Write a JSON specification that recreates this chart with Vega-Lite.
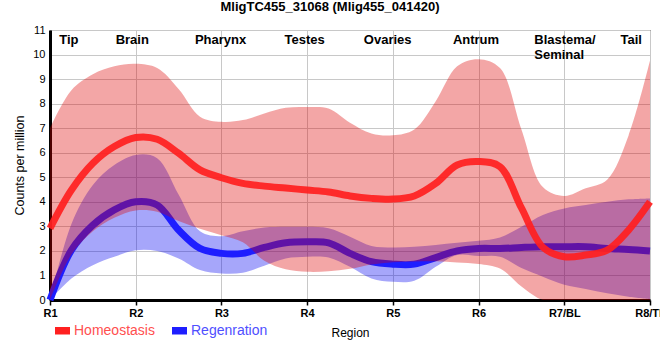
{
  "$schema": "https://vega.github.io/schema/vega-lite/v6.json",
  "width": 600,
  "height": 270,
  "autosize": {"type": "none"},
  "padding": {"left": 50, "top": 30, "right": 10, "bottom": 60},
  "background": "white",
  "title": {"text": "MligTC455_31068 (Mlig455_041420)", "font": "Liberation Sans", "fontSize": 13, "fontWeight": "bold", "color": "black", "anchor": "middle", "frame": "group", "dx": -20, "offset": 0, "baseline": "alphabetic"},
  "datasets": {
    "curves": [
      {"series": "Homeostasis", "x": 1, "mean": 2.92, "lo": 0, "hi": 7.0},
      {"series": "Homeostasis", "x": 1.25, "mean": 4.48, "lo": 1.85, "hi": 8.55},
      {"series": "Homeostasis", "x": 1.5, "mean": 5.57, "lo": 2.8, "hi": 9.2},
      {"series": "Homeostasis", "x": 1.75, "mean": 6.25, "lo": 3.35, "hi": 9.52},
      {"series": "Homeostasis", "x": 2, "mean": 6.62, "lo": 3.65, "hi": 9.62},
      {"series": "Homeostasis", "x": 2.25, "mean": 6.55, "lo": 3.6, "hi": 9.45},
      {"series": "Homeostasis", "x": 2.5, "mean": 5.98, "lo": 3.22, "hi": 8.6},
      {"series": "Homeostasis", "x": 2.75, "mean": 5.3, "lo": 2.9, "hi": 7.47},
      {"series": "Homeostasis", "x": 3, "mean": 4.98, "lo": 2.64, "hi": 7.26},
      {"series": "Homeostasis", "x": 3.25, "mean": 4.75, "lo": 2.35, "hi": 7.33},
      {"series": "Homeostasis", "x": 3.5, "mean": 4.64, "lo": 1.6, "hi": 7.6},
      {"series": "Homeostasis", "x": 3.75, "mean": 4.56, "lo": 1.25, "hi": 7.83},
      {"series": "Homeostasis", "x": 4, "mean": 4.48, "lo": 1.15, "hi": 7.86},
      {"series": "Homeostasis", "x": 4.25, "mean": 4.4, "lo": 1.17, "hi": 7.8},
      {"series": "Homeostasis", "x": 4.5, "mean": 4.24, "lo": 1.27, "hi": 7.22},
      {"series": "Homeostasis", "x": 4.75, "mean": 4.14, "lo": 1.45, "hi": 6.78},
      {"series": "Homeostasis", "x": 5, "mean": 4.11, "lo": 1.54, "hi": 6.71},
      {"series": "Homeostasis", "x": 5.25, "mean": 4.24, "lo": 1.57, "hi": 6.95},
      {"series": "Homeostasis", "x": 5.5, "mean": 4.75, "lo": 1.58, "hi": 8.1},
      {"series": "Homeostasis", "x": 5.75, "mean": 5.5, "lo": 1.53, "hi": 9.52},
      {"series": "Homeostasis", "x": 6, "mean": 5.64, "lo": 1.47, "hi": 9.81},
      {"series": "Homeostasis", "x": 6.25, "mean": 5.43, "lo": 1.28, "hi": 9.45},
      {"series": "Homeostasis", "x": 6.5, "mean": 3.75, "lo": 0.55, "hi": 6.95},
      {"series": "Homeostasis", "x": 6.75, "mean": 2.15, "lo": 0, "hi": 4.6},
      {"series": "Homeostasis", "x": 7, "mean": 1.76, "lo": 0, "hi": 4.24},
      {"series": "Homeostasis", "x": 7.25, "mean": 1.83, "lo": 0, "hi": 4.55},
      {"series": "Homeostasis", "x": 7.5, "mean": 2.03, "lo": 0, "hi": 4.9},
      {"series": "Homeostasis", "x": 7.75, "mean": 2.85, "lo": 0, "hi": 6.7},
      {"series": "Homeostasis", "x": 8, "mean": 4.0, "lo": 0, "hi": 9.75},
      {"series": "Regenration", "x": 1, "mean": 0, "lo": 0, "hi": 0},
      {"series": "Regenration", "x": 1.25, "mean": 2.03, "lo": 0.88, "hi": 3.1},
      {"series": "Regenration", "x": 1.5, "mean": 3.05, "lo": 1.42, "hi": 4.69},
      {"series": "Regenration", "x": 1.75, "mean": 3.67, "lo": 1.76, "hi": 5.5},
      {"series": "Regenration", "x": 2, "mean": 4.0, "lo": 2.03, "hi": 5.91},
      {"series": "Regenration", "x": 2.25, "mean": 3.87, "lo": 2.0, "hi": 5.78},
      {"series": "Regenration", "x": 2.5, "mean": 2.85, "lo": 1.69, "hi": 4.3},
      {"series": "Regenration", "x": 2.75, "mean": 2.1, "lo": 1.22, "hi": 2.8},
      {"series": "Regenration", "x": 3, "mean": 1.9, "lo": 1.08, "hi": 2.6},
      {"series": "Regenration", "x": 3.25, "mean": 1.9, "lo": 1.11, "hi": 2.8},
      {"series": "Regenration", "x": 3.5, "mean": 2.14, "lo": 1.4, "hi": 2.95},
      {"series": "Regenration", "x": 3.75, "mean": 2.33, "lo": 1.69, "hi": 2.98},
      {"series": "Regenration", "x": 4, "mean": 2.37, "lo": 1.76, "hi": 2.98},
      {"series": "Regenration", "x": 4.25, "mean": 2.33, "lo": 1.73, "hi": 2.92},
      {"series": "Regenration", "x": 4.5, "mean": 1.9, "lo": 1.35, "hi": 2.58},
      {"series": "Regenration", "x": 4.75, "mean": 1.56, "lo": 0.88, "hi": 2.2},
      {"series": "Regenration", "x": 5, "mean": 1.46, "lo": 0.74, "hi": 2.14},
      {"series": "Regenration", "x": 5.25, "mean": 1.46, "lo": 0.78, "hi": 2.17},
      {"series": "Regenration", "x": 5.5, "mean": 1.73, "lo": 1.35, "hi": 2.24},
      {"series": "Regenration", "x": 5.75, "mean": 2.0, "lo": 1.83, "hi": 2.33},
      {"series": "Regenration", "x": 6, "mean": 2.1, "lo": 1.79, "hi": 2.41},
      {"series": "Regenration", "x": 6.25, "mean": 2.1, "lo": 1.76, "hi": 2.55},
      {"series": "Regenration", "x": 6.5, "mean": 2.14, "lo": 1.3, "hi": 2.98},
      {"series": "Regenration", "x": 6.75, "mean": 2.17, "lo": 0.95, "hi": 3.46},
      {"series": "Regenration", "x": 7, "mean": 2.17, "lo": 0.62, "hi": 3.73},
      {"series": "Regenration", "x": 7.25, "mean": 2.17, "lo": 0.45, "hi": 3.87},
      {"series": "Regenration", "x": 7.5, "mean": 2.1, "lo": 0.27, "hi": 4.0},
      {"series": "Regenration", "x": 7.75, "mean": 2.06, "lo": 0.13, "hi": 4.1},
      {"series": "Regenration", "x": 8, "mean": 2.0, "lo": 0.03, "hi": 4.14}
    ],
    "regions": [
      {"label": "Tip", "x": 1.22},
      {"label": "Brain", "x": 1.96},
      {"label": "Pharynx", "x": 2.99},
      {"label": "Testes", "x": 3.97},
      {"label": "Ovaries", "x": 4.94},
      {"label": "Antrum", "x": 5.97},
      {"label": "Tail", "x": 7.78}
    ],
    "regions_left": [
      {"label": "Blastema/\nSeminal", "x": 6.65}
    ]
  },
  "config": {
    "font": "Liberation Sans",
    "view": {"stroke": "black", "strokeWidth": 1},
    "axis": {"gridColor": "#c8c8c8", "gridOpacity": 1, "gridWidth": 1, "domainColor": "black", "domainWidth": 3, "labelColor": "black", "titleColor": "black", "titleFontWeight": "normal", "titleFont": "Liberation Sans", "labelFont": "Liberation Sans"},
    "axisY": {"tickSize": 0, "ticks": false, "labelPadding": 5, "labelFontSize": 11, "titleFontSize": 12.5, "titleX": -31, "titleY": 135, "titleAngle": 270, "titleAlign": "center", "titleBaseline": "middle", "tickCount": 11},
    "axisX": {"tickSize": 5, "tickColor": "black", "tickWidth": 1.5, "labelPadding": 2, "labelFontSize": 11, "labelFontWeight": "bold", "titleFontSize": 12, "titleX": 300, "titleY": 32, "titleBaseline": "middle", "titleAlign": "center"}
  },
  "encoding": {
    "x": {"field": "x", "type": "quantitative", "title": "Region",
      "scale": {"domain": [1, 8], "nice": false, "zero": false},
      "axis": {"values": [1, 2, 3, 4, 5, 6, 7, 8], "labelExpr": "['R1','R2','R3','R4','R5','R6','R7/BL','R8/TL'][datum.value - 1]", "labelOverlap": false, "labelFlush": false}}
  },
  "layer": [
    {
      "data": {"name": "curves"},
      "transform": [{"filter": "datum.series === 'Regenration'"}],
      "mark": {"type": "area", "interpolate": "catmull-rom", "clip": true, "color": "#0000f0", "opacity": 0.35},
      "encoding": {
        "y": {"field": "lo", "type": "quantitative", "title": "Counts per million", "scale": {"domain": [0, 11], "nice": false}},
        "y2": {"field": "hi"}
      }
    },
    {
      "data": {"name": "curves"},
      "transform": [{"filter": "datum.series === 'Regenration'"}],
      "mark": {"type": "line", "interpolate": "catmull-rom", "strokeWidth": 7},
      "encoding": {
        "y": {"field": "mean", "type": "quantitative", "title": "Counts per million"},
        "color": {"field": "series", "type": "nominal",
          "scale": {"domain": ["Homeostasis", "Regenration"], "range": ["#ff2020", "#1e1eff"]},
          "legend": {"orient": "none", "legendX": 5, "legendY": 293, "direction": "horizontal", "title": null,
            "symbolType": "M-1,-0.5H1V0.5H-1Z", "symbolSize": 225, "symbolStrokeWidth": 0,
            "labelFontSize": 14, "labelFont": "Liberation Sans", "labelOffset": 4, "columnPadding": 17, "padding": 0,
            "encode": {
              "symbols": {"update": {"fill": {"scale": "color", "field": "value"}, "opacity": {"value": 1}, "strokeWidth": {"value": 0}}},
              "labels": {"update": {"fill": {"signal": "datum.value === 'Homeostasis' ? '#ff4f4f' : '#4f4fff'"}}}
            }}
        }
      }
    },
    {
      "data": {"name": "curves"},
      "transform": [{"filter": "datum.series === 'Homeostasis'"}],
      "mark": {"type": "area", "interpolate": "catmull-rom", "clip": true, "color": "#de0000", "opacity": 0.35},
      "encoding": {
        "y": {"field": "lo", "type": "quantitative", "title": "Counts per million"},
        "y2": {"field": "hi"}
      }
    },
    {
      "data": {"name": "curves"},
      "transform": [{"filter": "datum.series === 'Homeostasis'"}],
      "mark": {"type": "line", "interpolate": "catmull-rom", "strokeWidth": 7, "opacity": 0.92},
      "encoding": {
        "y": {"field": "mean", "type": "quantitative", "title": "Counts per million"},
        "color": {"field": "series", "type": "nominal"}
      }
    },
    {
      "data": {"name": "regions"},
      "mark": {"type": "text", "font": "Liberation Sans", "fontSize": 13, "fontWeight": "bold", "color": "black", "align": "center", "baseline": "alphabetic"},
      "encoding": {
        "text": {"field": "label"},
        "y": {"datum": 10.44, "type": "quantitative"}
      }
    },
    {
      "data": {"name": "regions_left"},
      "mark": {"type": "text", "font": "Liberation Sans", "fontSize": 13, "fontWeight": "bold", "color": "black", "align": "left", "baseline": "alphabetic", "lineBreak": "\n", "lineHeight": 15},
      "encoding": {
        "text": {"field": "label"},
        "y": {"datum": 10.44, "type": "quantitative"}
      }
    },
    {
      "data": {"values": [{}]},
      "mark": {"type": "rule", "color": "black", "strokeWidth": 2.5, "strokeDash": [6, 4]},
      "encoding": {
        "x": {"datum": 7.5, "type": "quantitative"},
        "y": {"datum": 11, "type": "quantitative"},
        "y2": {"datum": -0.2}
      }
    }
  ]
}
